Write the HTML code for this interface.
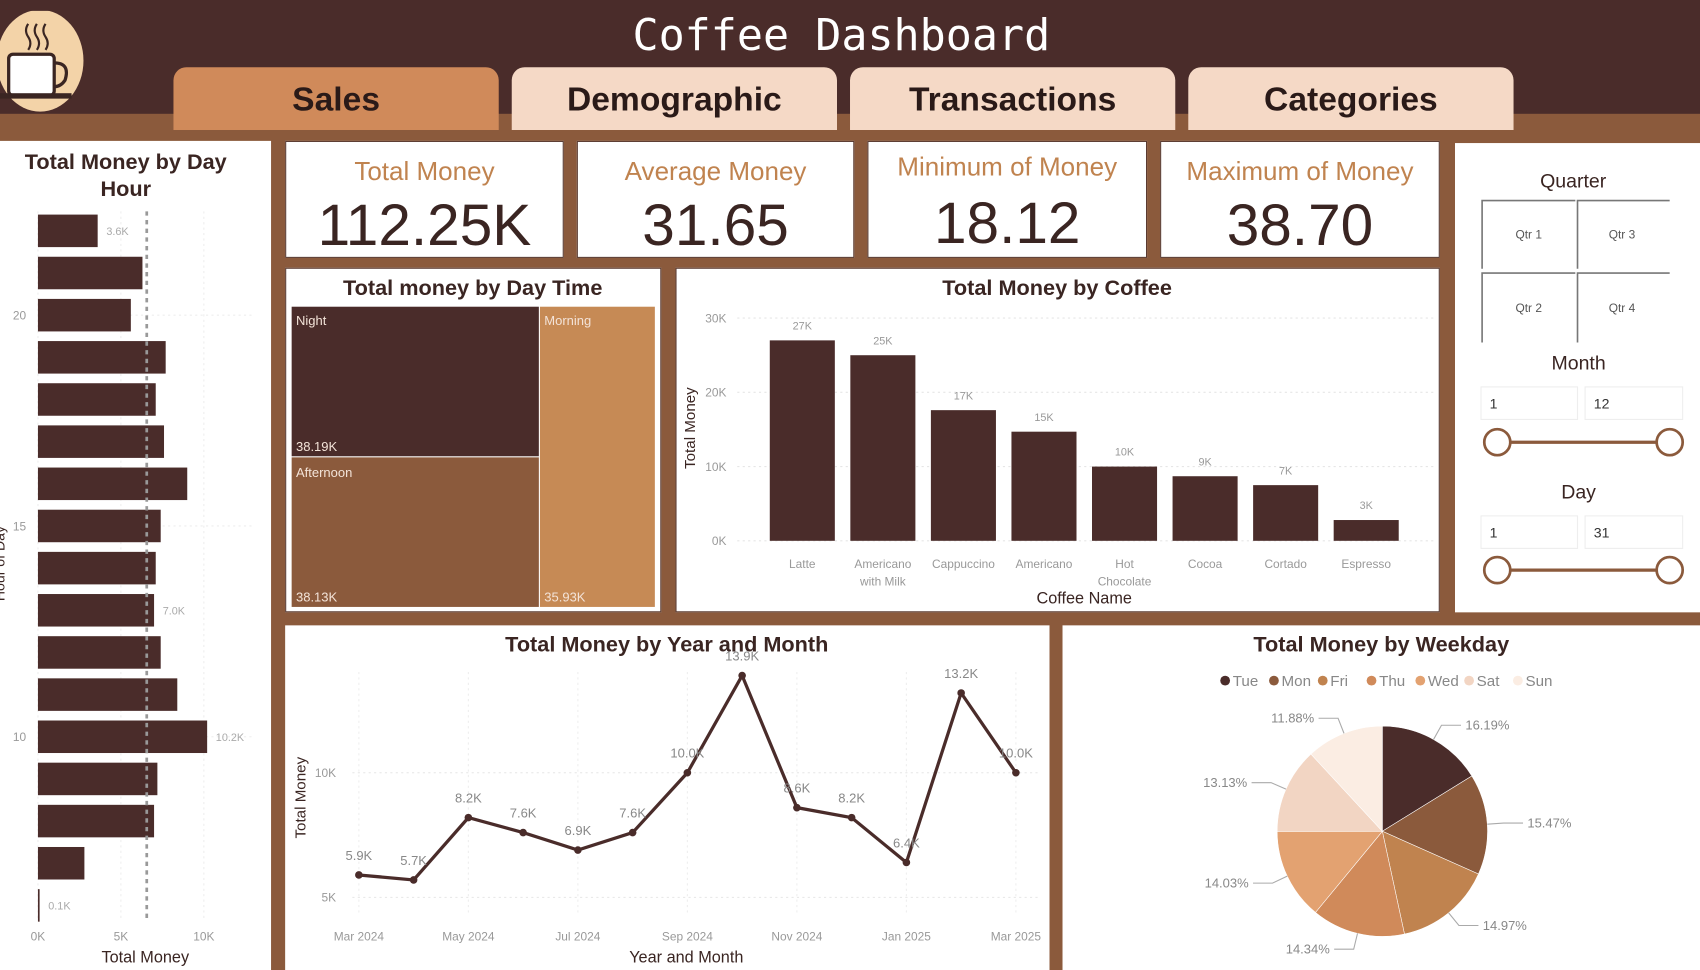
<!DOCTYPE html>
<html><head><meta charset="utf-8"><style>
html,body{margin:0;padding:0;width:1700px;height:970px;overflow:hidden;background:#8B5A3C;font-family:"Liberation Sans",sans-serif}
#wrap{position:absolute;left:0;top:0;width:1568px;height:895px;transform-origin:0 0;transform:scale(1.0842,1.0838)}
.abs{position:absolute}
.card{position:absolute;background:#fff;border:1px solid #5a3a30;box-sizing:border-box}
.tab{position:absolute;top:62px;width:300px;height:58px;border-radius:12px 12px 0 0;font-weight:bold;font-size:31px;text-align:center;line-height:60px;color:#2a1a18;background:#F5D9C6}
.kt{position:absolute;left:0;right:0;text-align:center;color:#C0834F;font-size:24px}
.kv{position:absolute;left:0;right:0;text-align:center;color:#3a2522;font-size:54px}
</style></head><body>
<div id="wrap">
<div class="abs" style="left:0;top:0;width:1568px;height:105px;background:#4A2C2A"></div>
<svg class="abs" style="left:0;top:10px" width="80" height="95"><ellipse cx="37" cy="46" rx="40" ry="47" fill="#F3D3A8"/><rect x="8" y="40" width="42" height="38" rx="4" fill="#fff" stroke="#3a2522" stroke-width="3"/><path d="M50 48 q15 0 10 16 q-4 6 -10 6" fill="none" stroke="#3a2522" stroke-width="3"/><rect x="-2" y="76" width="68" height="5" fill="#3a2522"/><path d="M26 12 q-4 6 0 12 q4 6 0 12 M34 12 q-4 6 0 12 q4 6 0 12 M42 12 q-4 6 0 12 q4 6 0 12" fill="none" stroke="#3a2522" stroke-width="2"/></svg>
<div class="abs" style="left:0;width:1552px;top:10px;text-align:center;color:#fff;font-family:'DejaVu Sans Mono','Liberation Mono',monospace;font-size:40px">Coffee Dashboard</div>
<div class="tab" style="left:160px;background:#D08A5A">Sales</div>
<div class="tab" style="left:472px">Demographic</div>
<div class="tab" style="left:784px">Transactions</div>
<div class="tab" style="left:1096px">Categories</div>

<div class="card" style="left:263px;top:130px;width:257px;height:108px"><div class="kt" style="top:14px">Total Money</div><div class="kv" style="top:46px">112.25K</div></div>
<div class="card" style="left:532px;top:130px;width:256px;height:108px"><div class="kt" style="top:14px">Average Money</div><div class="kv" style="top:46px">31.65</div></div>
<div class="card" style="left:800px;top:130px;width:258px;height:108px"><div class="kt" style="top:10px">Minimum of Money</div><div class="kv" style="top:44px">18.12</div></div>
<div class="card" style="left:1070px;top:130px;width:258px;height:108px"><div class="kt" style="top:14px">Maximum of Money</div><div class="kv" style="top:46px">38.70</div></div>

<div class="card" style="left:1342px;top:132px;width:226px;height:433px;border:none"></div>
<svg class="abs" style="left:0;top:0" width="1568" height="895">
<text x="1451" y="173" font-size="18" fill="#3a2522" text-anchor="middle">Quarter</text>
<g fill="none" stroke="#777" stroke-width="1.5"><path d="M1367 248 V185 H1453 M1455 248 V185 H1540 M1367 316 V252 H1453 M1455 316 V252 H1540"/></g>
<text x="1410" y="220" font-size="11" fill="#555" text-anchor="middle">Qtr 1</text>
<text x="1496" y="220" font-size="11" fill="#555" text-anchor="middle">Qtr 3</text>
<text x="1410" y="288" font-size="11" fill="#555" text-anchor="middle">Qtr 2</text>
<text x="1496" y="288" font-size="11" fill="#555" text-anchor="middle">Qtr 4</text>
<text x="1456" y="341" font-size="18" fill="#3a2522" text-anchor="middle">Month</text>
<rect x="1366" y="357" width="89" height="30" fill="#fff" stroke="#eee"/><text x="1374" y="377" font-size="13" fill="#333">1</text>
<rect x="1462" y="357" width="90" height="30" fill="#fff" stroke="#eee"/><text x="1470" y="377" font-size="13" fill="#333">12</text>
<line x1="1381" y1="408" x2="1540" y2="408" stroke="#8B5A3C" stroke-width="3"/>
<circle cx="1381" cy="408" r="12" fill="#fff" stroke="#8B5A3C" stroke-width="2.5"/><circle cx="1540" cy="408" r="12" fill="#fff" stroke="#8B5A3C" stroke-width="2.5"/>
<text x="1456" y="460" font-size="18" fill="#3a2522" text-anchor="middle">Day</text>
<rect x="1366" y="476" width="89" height="30" fill="#fff" stroke="#eee"/><text x="1374" y="496" font-size="13" fill="#333">1</text>
<rect x="1462" y="476" width="90" height="30" fill="#fff" stroke="#eee"/><text x="1470" y="496" font-size="13" fill="#333">31</text>
<line x1="1381" y1="526" x2="1540" y2="526" stroke="#8B5A3C" stroke-width="3"/>
<circle cx="1381" cy="526" r="12" fill="#fff" stroke="#8B5A3C" stroke-width="2.5"/><circle cx="1540" cy="526" r="12" fill="#fff" stroke="#8B5A3C" stroke-width="2.5"/>
</svg>

<div class="card" style="left:263px;top:247px;width:347px;height:318px"></div>
<svg class="abs" style="left:0;top:0" width="1568" height="895">
<text x="436" y="272" font-size="20" font-weight="bold" fill="#3a2522" text-anchor="middle">Total money by Day Time</text>
<rect x="269" y="283" width="228" height="138" fill="#4A2C2A"/>
<rect x="269" y="422" width="228" height="138" fill="#8B5A3C"/>
<rect x="498" y="283" width="106" height="277" fill="#C68A55"/>
<g fill="#f3e3d8" font-size="12"><text x="273" y="300">Night</text><text x="273" y="416">38.19K</text><text x="273" y="440">Afternoon</text><text x="273" y="555">38.13K</text><text x="502" y="300">Morning</text><text x="502" y="555">35.93K</text></g>
</svg>

<div class="card" style="left:0;top:130px;width:250px;height:765px;border:none"></div>
<div class="card" style="left:623px;top:247px;width:705px;height:318px"></div>
<div class="card" style="left:263px;top:577px;width:705px;height:318px;border:none"></div>
<div class="card" style="left:980px;top:577px;width:588px;height:318px;border:none"></div>
<svg id="charts" class="abs" style="left:0;top:0" width="1568" height="895"></svg>
</div>
<script>
const hours=[22,21,20,19,18,17,16,15,14,13,12,11,10,9,8,7,6];
const hourValues=[3.6,6.3,5.6,7.7,7.1,7.6,9.0,7.4,7.1,7.0,7.4,8.4,10.2,7.2,7.0,2.8,0.1];
const hourLabels=["3.6K","","","","","","","","","7.0K","","","10.2K","","","","0.1K"];
const hourTicks=[0,5,10];
const coffees=["Latte","Americano|with Milk","Cappuccino","Americano","Hot|Chocolate","Cocoa","Cortado","Espresso"];
const coffeeValues=[27,25,17.6,14.7,10,8.7,7.5,2.8];
const coffeeLabels=["27K","25K","17K","15K","10K","9K","7K","3K"];
const coffeeTicks=[0,10,20,30];
const months=["Mar 2024","Apr 2024","May 2024","Jun 2024","Jul 2024","Aug 2024","Sep 2024","Oct 2024","Nov 2024","Dec 2024","Jan 2025","Feb 2025","Mar 2025"];
const monthValues=[5.9,5.7,8.2,7.6,6.9,7.6,10.0,13.9,8.6,8.2,6.4,13.2,10.0];
const monthLabels=["5.9K","5.7K","8.2K","7.6K","6.9K","7.6K","10.0K","13.9K","8.6K","8.2K","6.4K","13.2K","10.0K"];
const monthTicks=[5,10];
const weekdays=["Tue","Mon","Fri","Thu","Wed","Sat","Sun"];
const weekdayValues=[16.19,15.47,14.97,14.34,14.03,13.13,11.88];
const weekdayColors=["#4A2C2A","#8B5A3C","#C0834F","#D08A5A","#E3A271","#F2D5C3","#FBEDE3"];

const svg=document.getElementById('charts');const NS='http://www.w3.org/2000/svg';
function mk(tag,attrs,txt){const e=document.createElementNS(NS,tag);for(const k in attrs)e.setAttribute(k,attrs[k]);if(txt!=null)e.textContent=txt;svg.appendChild(e);return e;}

mk('text',{x:116,y:156,'font-size':20,'font-weight':'bold','fill':'#3a2522','text-anchor':'middle'},'Total Money by Day');
mk('text',{x:116,y:181,'font-size':20,'font-weight':'bold','fill':'#3a2522','text-anchor':'middle'},'Hour');
const hx=v=>35+v*15.3, hy=h=>213+(22-h)*38.9;
hourTicks.forEach(t=>{mk('line',{x1:hx(t),x2:hx(t),y1:195,y2:850,stroke:'#eee','stroke-dasharray':'2,3'});const e=mk('text',{x:hx(t),y:868,'font-size':11,fill:'#999','text-anchor':'middle'},t+'K');});
[20,15,10].forEach(h=>{mk('text',{x:18,y:hy(h)+4,'font-size':11,fill:'#999','text-anchor':'middle'},h);mk('line',{x1:35,x2:235,y1:hy(h),y2:hy(h),stroke:'#eee','stroke-dasharray':'2,3'});});
hours.forEach((h,i)=>{const r=mk('rect',{x:35,y:hy(h)-15,width:hx(hourValues[i])-35,height:30,fill:'#4A2C2A'});
if(hourLabels[i])mk('text',{x:hx(hourValues[i])+8,y:hy(h)+4,'font-size':10,fill:'#aaa'},hourLabels[i]);});
const avg=hourValues.reduce((a,b)=>a+b,0)/hourValues.length;
mk('line',{x1:hx(avg),x2:hx(avg),y1:195,y2:850,stroke:'#999','stroke-width':2.5,'stroke-dasharray':'4,4'});
mk('text',{x:134,y:888,'font-size':15,fill:'#3a2522','text-anchor':'middle'},'Total Money');
mk('text',{x:4,y:520,'font-size':13,fill:'#3a2522','text-anchor':'middle',transform:'rotate(-90 4 520)'},'Hour of Day');

mk('text',{x:975,y:272,'font-size':20,'font-weight':'bold',fill:'#3a2522','text-anchor':'middle'},'Total Money by Coffee');
const cy=v=>499-v*6.85, cx=i=>740+i*74.3;
coffeeTicks.forEach(t=>{mk('line',{x1:680,x2:1322,y1:cy(t),y2:cy(t),stroke:'#e6e6e6','stroke-dasharray':'2,3'});mk('text',{x:670,y:cy(t)+4,'font-size':11,fill:'#999','text-anchor':'end'},t+'K');});
coffees.forEach((c,i)=>{const r=mk('rect',{x:cx(i)-30,y:cy(coffeeValues[i]),width:60,height:coffeeValues[i]*6.85,fill:'#4A2C2A'});
mk('text',{x:cx(i),y:cy(coffeeValues[i])-10,'font-size':10,fill:'#999','text-anchor':'middle'},coffeeLabels[i]);
c.split('|').forEach((p,j)=>mk('text',{x:cx(i),y:524+j*16,'font-size':11,fill:'#999','text-anchor':'middle'},p));});
mk('text',{x:1000,y:557,'font-size':15,fill:'#3a2522','text-anchor':'middle'},'Coffee Name');
mk('text',{x:641,y:395,'font-size':14,fill:'#3a2522','text-anchor':'middle',transform:'rotate(-90 641 395)'},'Total Money');

mk('text',{x:615,y:601,'font-size':20,'font-weight':'bold',fill:'#3a2522','text-anchor':'middle'},'Total Money by Year and Month');
const lx=i=>331+i*50.5, ly=v=>713-(v-10)*23;
monthTicks.forEach(t=>{mk('line',{x1:325,x2:960,y1:ly(t),y2:ly(t),stroke:'#e6e6e6','stroke-dasharray':'2,3'});mk('text',{x:310,y:ly(t)+4,'font-size':11,fill:'#999','text-anchor':'end'},t+'K');});
months.forEach((m,i)=>{if(i%2===0){mk('line',{x1:lx(i),x2:lx(i),y1:620,y2:845,stroke:'#eee','stroke-dasharray':'2,3'});mk('text',{x:lx(i),y:868,'font-size':11,fill:'#999','text-anchor':'middle'},m);}});
mk('polyline',{points:monthValues.map((v,i)=>lx(i)+','+ly(v)).join(' '),fill:'none',stroke:'#4A2C2A','stroke-width':3});
monthValues.forEach((v,i)=>{const c=mk('circle',{cx:lx(i),cy:ly(v),r:3.5,fill:'#4A2C2A'});
mk('text',{x:lx(i),y:ly(v)-14,'font-size':12,fill:'#888','text-anchor':'middle'},monthLabels[i]);});
mk('text',{x:633,y:888,'font-size':15,fill:'#3a2522','text-anchor':'middle'},'Year and Month');
mk('text',{x:282,y:736,'font-size':14,fill:'#3a2522','text-anchor':'middle',transform:'rotate(-90 282 736)'},'Total Money');

mk('text',{x:1274,y:601,'font-size':20,'font-weight':'bold',fill:'#3a2522','text-anchor':'middle'},'Total Money by Weekday');
let lgx=1125;weekdays.forEach((w,i)=>{mk('circle',{cx:lgx+5,cy:628,r:4.5,fill:weekdayColors[i]});mk('text',{x:lgx+12,y:633,'font-size':14,fill:'#888'},w);lgx+=w.length*9+18;});
const pcx=1275,pcy=767,pr=97,tot=weekdayValues.reduce((a,b)=>a+b,0);let ang=-Math.PI/2;
weekdays.forEach((w,i)=>{const a=weekdayValues[i]/tot*2*Math.PI,a2=ang+a;
const p=mk('path',{d:`M${pcx},${pcy} L${pcx+pr*Math.cos(ang)},${pcy+pr*Math.sin(ang)} A${pr},${pr} 0 ${a>Math.PI?1:0} 1 ${pcx+pr*Math.cos(a2)},${pcy+pr*Math.sin(a2)} Z`,fill:weekdayColors[i],stroke:'#fff','stroke-width':0.5});

const m=(ang+a2)/2,ex=pcx+(pr+15)*Math.cos(m),ey=pcy+(pr+15)*Math.sin(m),right=Math.cos(m)>=0;
mk('polyline',{points:`${pcx+pr*Math.cos(m)},${pcy+pr*Math.sin(m)} ${ex},${ey} ${ex+(right?18:-18)},${ey}`,fill:'none',stroke:'#aaa'});
mk('text',{x:ex+(right?22:-22),y:ey+4,'font-size':12,fill:'#888','text-anchor':right?'start':'end'},weekdayValues[i].toFixed(2)+'%');
ang=a2;});
</script>
</body></html>
